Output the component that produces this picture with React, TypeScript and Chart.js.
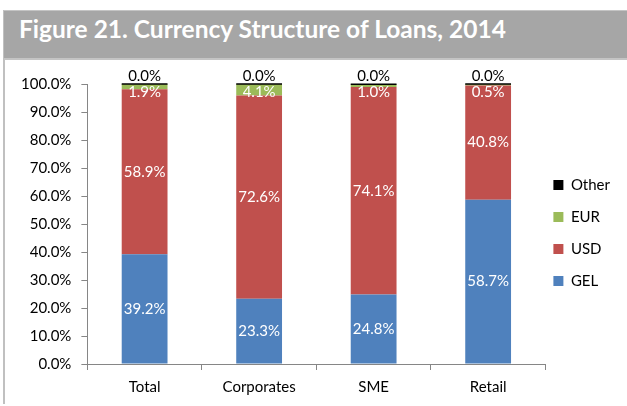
import React, { useEffect, useRef } from "react";
import { Chart, registerables } from "chart.js";

Chart.register(...registerables);

const categories = ["Total", "Corporates", "SME", "Retail"];
const gelValues = [39.2, 23.3, 24.8, 58.7];
const usdValues = [58.9, 72.6, 74.1, 40.8];
const eurValues = [1.9, 4.1, 1.0, 0.5];
const otherValues = [0.0, 0.0, 0.0, 0.0];
const seriesNames = ["GEL", "USD", "EUR", "Other"];
const seriesColors = ["#4F81BD", "#C0504D", "#9BBB59", "#000000"];

const FONT = "Lato, 'Open Sans', sans-serif";

const labelPlugin = {
  id: "segLabels",
  afterLayout(chart: any) {
    const lg = chart.legend;
    if (lg) {
      lg.left -= 9;
      lg.right -= 9;
      lg.top -= 11;
      lg.bottom -= 11;
    }
  },
  afterDatasetsDraw(chart: any) {
    const ctx = chart.ctx;
    ctx.save();
    ctx.font = `15px ${FONT}`;
    ctx.textAlign = "center";
    ctx.textBaseline = "middle";
    chart.data.datasets.forEach((ds: any, di: number) => {
      const meta = chart.getDatasetMeta(di);
      meta.data.forEach((el: any, i: number) => {
        const v = ds.data[i];
        const top = Math.min(el.y, el.base);
        const bottom = Math.max(el.y, el.base);
        const txt = v.toFixed(1) + "%";
        if (di === 3) {
          ctx.strokeStyle = "#000";
          ctx.lineWidth = 1.5;
          ctx.beginPath();
          ctx.moveTo(el.x - el.width / 2, top);
          ctx.lineTo(el.x + el.width / 2, top);
          ctx.stroke();
          ctx.fillStyle = "#000";
          ctx.fillText(txt, el.x, top - 8);
        } else {
          let cy = (top + bottom) / 2;
          if (cy < chart.chartArea.top + 8) cy = chart.chartArea.top + 8;
          if (di === 2) cy = Math.max(cy, top + 8);
          ctx.fillStyle = "#ffffff";
          ctx.fillText(txt, el.x, cy);
        }
      });
    });
    ctx.restore();
  },
};

export default function App() {
  const ref = useRef<HTMLCanvasElement>(null);
  useEffect(() => {
    document.body.style.margin = "0";
    const values = [gelValues, usdValues, eurValues, otherValues];
    const chart = new Chart(ref.current!, {
      type: "bar",
      data: {
        labels: categories,
        datasets: values.map((d, i) => ({
          label: seriesNames[i],
          data: d,
          backgroundColor: seriesColors[i],
          borderWidth: 0,
          barPercentage: 0.4,
          categoryPercentage: 1,
        })),
      },
      options: {
        animation: false,
        responsive: false,
        layout: { padding: { left: 11, right: -2, top: 84, bottom: 2 } },
        plugins: {
          title: { display: false },
          tooltip: { enabled: false },
          legend: {
            position: "right",
            reverse: true,
            labels: {
              boxWidth: 10,
              boxHeight: 10,
              padding: 17,
              color: "#000",
              font: { family: FONT, size: 15 },
            },
          },
        },
        scales: {
          x: {
            stacked: true,
            grid: {
              offset: true,
              drawOnChartArea: false,
              drawTicks: true,
              tickLength: 6,
              color: "#868686",
            },
            border: { color: "#868686" },
            ticks: { color: "#000", padding: 8, font: { family: FONT, size: 15 } },
          },
          y: {
            stacked: true,
            min: 0,
            max: 100,
            grid: {
              drawOnChartArea: false,
              drawTicks: true,
              tickLength: 6,
              color: "#868686",
            },
            border: { color: "#868686" },
            ticks: {
              stepSize: 10,
              color: "#000",
              padding: 10,
              font: { family: FONT, size: 15 },
              callback: (v: any) => Number(v).toFixed(1) + "%",
            },
          },
        },
      },
      plugins: [labelPlugin],
    });
    return () => chart.destroy();
  }, []);

  return (
    <div
      style={{
        position: "fixed",
        left: 0,
        top: 0,
        width: 627,
        height: 406,
        background: "#fff",
        overflow: "hidden",
      }}
    >
      <div
        style={{
          position: "absolute",
          left: 3,
          top: 10,
          width: 2,
          height: 394,
          background: "#c0c0c0",
        }}
      />
      <div
        style={{
          position: "absolute",
          left: 4,
          top: 10,
          width: 623,
          height: 47,
          background: "#a6a6a6",
          borderTop: "1px solid #c4c4c4",
          borderBottom: "2px solid #c4c4c4",
          boxSizing: "content-box",
        }}
      />
      <div
        style={{
          position: "absolute",
          left: 19,
          top: 13,
          color: "#fff",
          fontFamily: FONT,
          fontWeight: 700,
          fontSize: 24.5,
          lineHeight: "32px",
          whiteSpace: "nowrap",
        }}
      >
        Figure 21. Currency Structure of Loans, 2014
      </div>
      <canvas
        ref={ref}
        width={627}
        height={406}
        style={{ position: "absolute", left: 0, top: 0 }}
      />
    </div>
  );
}
